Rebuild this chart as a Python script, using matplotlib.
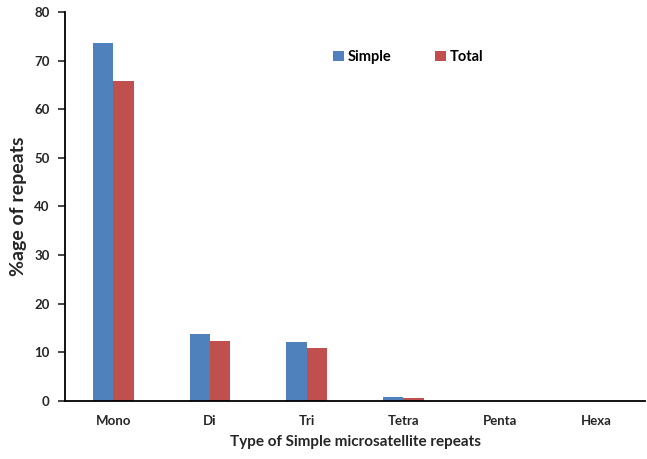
import matplotlib
matplotlib.use("Agg")
import matplotlib.pyplot as plt
import numpy as np

categories = ["Mono", "Di", "Tri", "Tetra", "Penta", "Hexa"]
simple = [73.6, 13.8, 12.1, 0.8, 0.05, 0.0]
total = [65.9, 12.3, 10.8, 0.6, 0.04, 0.0]

plt.rcParams['font.family'] = ['Lato', 'DejaVu Sans']
plt.rcParams['font.weight'] = 'bold'

fig = plt.figure(figsize=(6.47, 4.59), dpi=100)
ax = fig.add_axes([65 / 647, 58 / 459, 580 / 647, 389 / 459])

x = np.arange(len(categories))
w = 0.21
ax.bar(x - w / 2, simple, w, color="#4F81BD", label="Simple")
ax.bar(x + w / 2, total, w, color="#C0504D", label="Total")

ax.set_xlim(-0.5, len(categories) - 0.5)
ax.set_ylim(0, 80)
ax.set_yticks(range(0, 81, 10))
ax.set_xticks(x)
ax.set_xticklabels(categories, fontsize=9.5, fontweight='bold', color="#262626")
ax.tick_params(axis='x', length=0, pad=10)
ax.tick_params(axis='y', direction='out', length=5, width=1.2, labelsize=9.5, colors="#262626", pad=6)
for lbl in ax.get_yticklabels():
    lbl.set_fontweight('bold')

for s in ["top", "right"]:
    ax.spines[s].set_visible(False)
ax.spines["left"].set_linewidth(1.3)
ax.spines["bottom"].set_linewidth(1.3)

ax.set_ylabel("%age of repeats", fontsize=14, fontweight='bold', color="#262626", labelpad=5)
ax.set_xlabel("Type of Simple microsatellite repeats", fontsize=11, fontweight='bold', color="#262626", labelpad=6)

ax.legend(loc="upper left", bbox_to_anchor=(0.44, 0.935), ncol=2, frameon=False,
          handlelength=0.7, handleheight=0.7, columnspacing=3.0, handletextpad=0.3,
          prop={'weight': 'bold', 'size': 10.5})

fig.savefig("out.png", dpi=100)
